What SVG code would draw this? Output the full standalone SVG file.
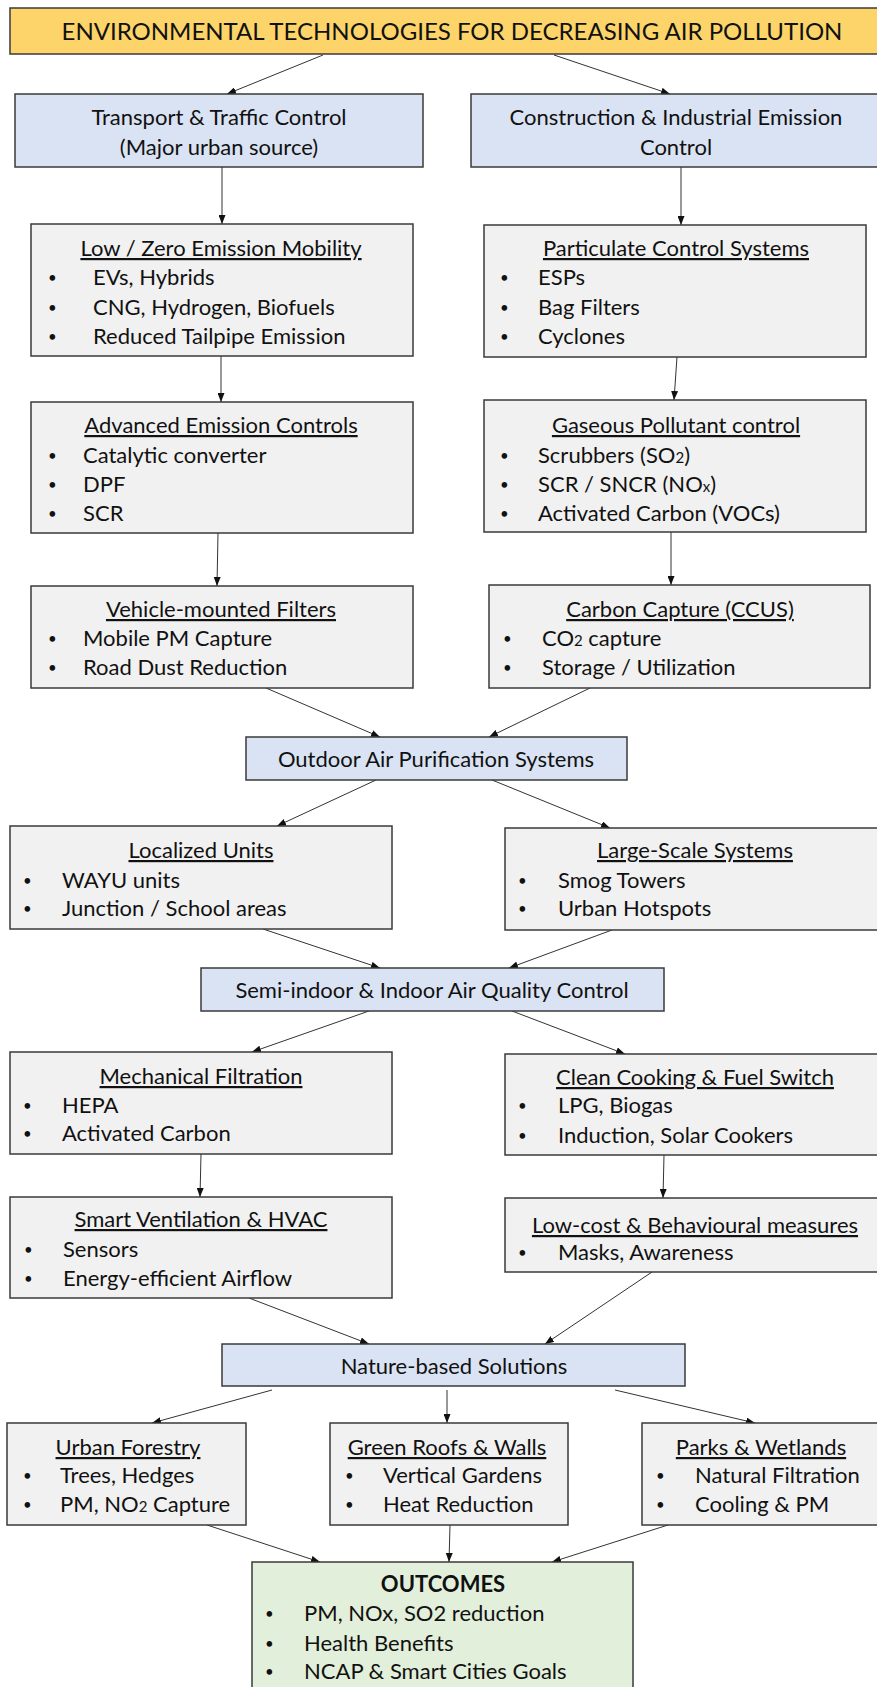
<svg xmlns="http://www.w3.org/2000/svg" width="877" height="1687" viewBox="0 0 877 1687">
<defs>
<style>
text{font-family:Lato,"Open Sans","Liberation Sans",sans-serif;font-size:22px;fill:#111}
.c{text-anchor:middle}
.u{text-decoration:underline}
.b{font-weight:bold}
.t{font-size:24px}
.sub{font-size:15px}
.dot{font-size:15px}
.hd{fill:#fcd46a;stroke:#3a3a3a;stroke-width:1.5}
.bl{fill:#dae3f3;stroke:#3a3a3a;stroke-width:1.5}
.gr{fill:#f1f1f1;stroke:#3a3a3a;stroke-width:1.5}
.gn{fill:#e2efda;stroke:#3a3a3a;stroke-width:1.5}
.e{stroke:#333;stroke-width:1;fill:none;marker-end:url(#ah)}
</style>
<marker id="ah" viewBox="0 0 9 7" refX="9" refY="3.5" markerWidth="9" markerHeight="7" markerUnits="userSpaceOnUse" orient="auto">
<path d="M0,0 L9,3.5 L0,7 z" fill="#111"/>
</marker>
</defs>
<rect width="877" height="1687" fill="#fff"/>

<g id="connectors">
<line class="e" x1="323" y1="55" x2="227" y2="94"/>
<line class="e" x1="554" y1="55" x2="670" y2="94"/>
<line class="e" x1="222" y1="167" x2="222" y2="224"/>
<line class="e" x1="681" y1="167" x2="681" y2="225"/>
<line class="e" x1="221" y1="356" x2="221" y2="402"/>
<line class="e" x1="677" y1="357" x2="674" y2="400"/>
<line class="e" x1="218" y1="533" x2="217" y2="586"/>
<line class="e" x1="671" y1="532" x2="671" y2="585"/>
<line class="e" x1="266" y1="688" x2="380" y2="737"/>
<line class="e" x1="590" y1="688" x2="489" y2="737"/>
<line class="e" x1="376" y1="780" x2="277" y2="826"/>
<line class="e" x1="492" y1="780" x2="610" y2="828"/>
<line class="e" x1="263" y1="929" x2="380" y2="968"/>
<line class="e" x1="612" y1="930" x2="509" y2="968"/>
<line class="e" x1="369" y1="1011" x2="252" y2="1052"/>
<line class="e" x1="512" y1="1011" x2="625" y2="1054"/>
<line class="e" x1="201" y1="1154" x2="200" y2="1197"/>
<line class="e" x1="664" y1="1155" x2="663" y2="1198"/>
<line class="e" x1="249" y1="1298" x2="369" y2="1344"/>
<line class="e" x1="652" y1="1272" x2="545" y2="1344"/>
<line class="e" x1="272" y1="1390" x2="152" y2="1423"/>
<line class="e" x1="447" y1="1390" x2="447" y2="1423"/>
<line class="e" x1="615" y1="1390" x2="755" y2="1423"/>
<line class="e" x1="207" y1="1525" x2="320" y2="1562"/>
<line class="e" x1="450" y1="1525" x2="449" y2="1562"/>
<line class="e" x1="668" y1="1525" x2="552" y2="1562"/>
</g>

<g id="title">
<rect class="hd" x="10" y="8" width="870" height="46"/>
<text class="c t" x="452" y="40">ENVIRONMENTAL TECHNOLOGIES FOR DECREASING AIR POLLUTION</text>
</g>

<g id="transport">
<rect class="bl" x="15" y="94" width="408" height="73"/>
<text class="c" x="219" y="125">Transport &amp; Traffic Control</text>
<text class="c" x="219" y="155">(Major urban source)</text>
</g>

<g id="construction">
<rect class="bl" x="471" y="94" width="410" height="73"/>
<text class="c" x="676" y="125">Construction &amp; Industrial Emission</text>
<text class="c" x="676" y="155">Control</text>
</g>

<g id="lowzero">
<rect class="gr" x="31" y="224" width="382" height="132"/>
<text class="c u" x="221" y="256">Low / Zero Emission Mobility</text>
<text class="dot" x="48" y="283">•</text><text x="93" y="285">EVs, Hybrids</text>
<text class="dot" x="48" y="313">•</text><text x="93" y="315">CNG, Hydrogen, Biofuels</text>
<text class="dot" x="48" y="342">•</text><text x="93" y="344">Reduced Tailpipe Emission</text>
</g>

<g id="particulate">
<rect class="gr" x="484" y="225" width="382" height="132"/>
<text class="c u" x="676" y="256">Particulate Control Systems</text>
<text class="dot" x="500" y="283">•</text><text x="538" y="285">ESPs</text>
<text class="dot" x="500" y="313">•</text><text x="538" y="315">Bag Filters</text>
<text class="dot" x="500" y="342">•</text><text x="538" y="344">Cyclones</text>
</g>

<g id="advanced">
<rect class="gr" x="31" y="402" width="382" height="131"/>
<text class="c u" x="221" y="433">Advanced Emission Controls</text>
<text class="dot" x="48" y="461">•</text><text x="83" y="463">Catalytic converter</text>
<text class="dot" x="48" y="490">•</text><text x="83" y="492">DPF</text>
<text class="dot" x="48" y="519">•</text><text x="83" y="521">SCR</text>
</g>

<g id="gaseous">
<rect class="gr" x="484" y="400" width="382" height="132"/>
<text class="c u" x="676" y="433">Gaseous Pollutant control</text>
<text class="dot" x="500" y="461">•</text><text x="538" y="463">Scrubbers (SO<tspan class="sub">2</tspan>)</text>
<text class="dot" x="500" y="490">•</text><text x="538" y="492">SCR / SNCR (NO<tspan class="sub">x</tspan>)</text>
<text class="dot" x="500" y="519">•</text><text x="538" y="521">Activated Carbon (VOCs)</text>
</g>

<g id="vehicle">
<rect class="gr" x="31" y="586" width="382" height="102"/>
<text class="c u" x="221" y="617">Vehicle-mounted Filters</text>
<text class="dot" x="48" y="644">•</text><text x="83" y="646">Mobile PM Capture</text>
<text class="dot" x="48" y="673">•</text><text x="83" y="675">Road Dust Reduction</text>
</g>

<g id="carbon">
<rect class="gr" x="489" y="585" width="381" height="103"/>
<text class="c u" x="680" y="617">Carbon Capture (CCUS)</text>
<text class="dot" x="503" y="644">•</text><text x="542" y="646">CO<tspan class="sub">2</tspan> capture</text>
<text class="dot" x="503" y="673">•</text><text x="542" y="675">Storage / Utilization</text>
</g>

<g id="outdoor">
<rect class="bl" x="246" y="737" width="381" height="43"/>
<text class="c" x="436" y="767">Outdoor Air Purification Systems</text>
</g>

<g id="localized">
<rect class="gr" x="10" y="826" width="382" height="103"/>
<text class="c u" x="201" y="858">Localized Units</text>
<text class="dot" x="23" y="886">•</text><text x="62" y="888">WAYU units</text>
<text class="dot" x="23" y="914">•</text><text x="62" y="916">Junction / School areas</text>
</g>

<g id="largescale">
<rect class="gr" x="505" y="828" width="376" height="102"/>
<text class="c u" x="695" y="858">Large-Scale Systems</text>
<text class="dot" x="518" y="886">•</text><text x="558" y="888">Smog Towers</text>
<text class="dot" x="518" y="914">•</text><text x="558" y="916">Urban Hotspots</text>
</g>

<g id="semi">
<rect class="bl" x="201" y="968" width="463" height="43"/>
<text class="c" x="432" y="998">Semi-indoor &amp; Indoor Air Quality Control</text>
</g>

<g id="mechanical">
<rect class="gr" x="10" y="1052" width="382" height="102"/>
<text class="c u" x="201" y="1084">Mechanical Filtration</text>
<text class="dot" x="23" y="1111">•</text><text x="62" y="1113">HEPA</text>
<text class="dot" x="23" y="1139">•</text><text x="62" y="1141">Activated Carbon</text>
</g>

<g id="clean">
<rect class="gr" x="505" y="1054" width="376" height="101"/>
<text class="c u" x="695" y="1085">Clean Cooking &amp; Fuel Switch</text>
<text class="dot" x="518" y="1111">•</text><text x="558" y="1113">LPG, Biogas</text>
<text class="dot" x="518" y="1141">•</text><text x="558" y="1143">Induction, Solar Cookers</text>
</g>

<g id="smart">
<rect class="gr" x="10" y="1197" width="382" height="101"/>
<text class="c u" x="201" y="1227">Smart Ventilation &amp; HVAC</text>
<text class="dot" x="24" y="1255">•</text><text x="63" y="1257">Sensors</text>
<text class="dot" x="24" y="1284">•</text><text x="63" y="1286">Energy-efficient Airflow</text>
</g>

<g id="lowcost">
<rect class="gr" x="505" y="1198" width="376" height="74"/>
<text class="c u" x="695" y="1233">Low-cost &amp; Behavioural measures</text>
<text class="dot" x="518" y="1258">•</text><text x="558" y="1260">Masks, Awareness</text>
</g>

<g id="nature">
<rect class="bl" x="222" y="1344" width="463" height="42"/>
<text class="c" x="454" y="1374">Nature-based Solutions</text>
</g>

<g id="urban">
<rect class="gr" x="7" y="1423" width="239" height="102"/>
<text class="c u" x="128" y="1455">Urban Forestry</text>
<text class="dot" x="23" y="1481">•</text><text x="60" y="1483">Trees, Hedges</text>
<text class="dot" x="23" y="1510">•</text><text x="60" y="1512">PM, NO<tspan class="sub">2</tspan> Capture</text>
</g>

<g id="green">
<rect class="gr" x="330" y="1423" width="238" height="102"/>
<text class="c u" x="447" y="1455">Green Roofs &amp; Walls</text>
<text class="dot" x="345" y="1481">•</text><text x="383" y="1483">Vertical Gardens</text>
<text class="dot" x="345" y="1510">•</text><text x="383" y="1512">Heat Reduction</text>
</g>

<g id="parks">
<rect class="gr" x="642" y="1423" width="239" height="102"/>
<text class="c u" x="761" y="1455">Parks &amp; Wetlands</text>
<text class="dot" x="656" y="1481">•</text><text x="695" y="1483">Natural Filtration</text>
<text class="dot" x="656" y="1510">•</text><text x="695" y="1512">Cooling &amp; PM</text>
</g>

<g id="outcomes">
<rect class="gn" x="252" y="1562" width="381" height="140"/>
<text class="c b" x="443" y="1592">OUTCOMES</text>
<text class="dot" x="265" y="1619">•</text><text x="304" y="1621">PM, NOx, SO2 reduction</text>
<text class="dot" x="265" y="1649">•</text><text x="304" y="1651">Health Benefits</text>
<text class="dot" x="265" y="1677">•</text><text x="304" y="1679">NCAP &amp; Smart Cities Goals</text>
</g>
</svg>
